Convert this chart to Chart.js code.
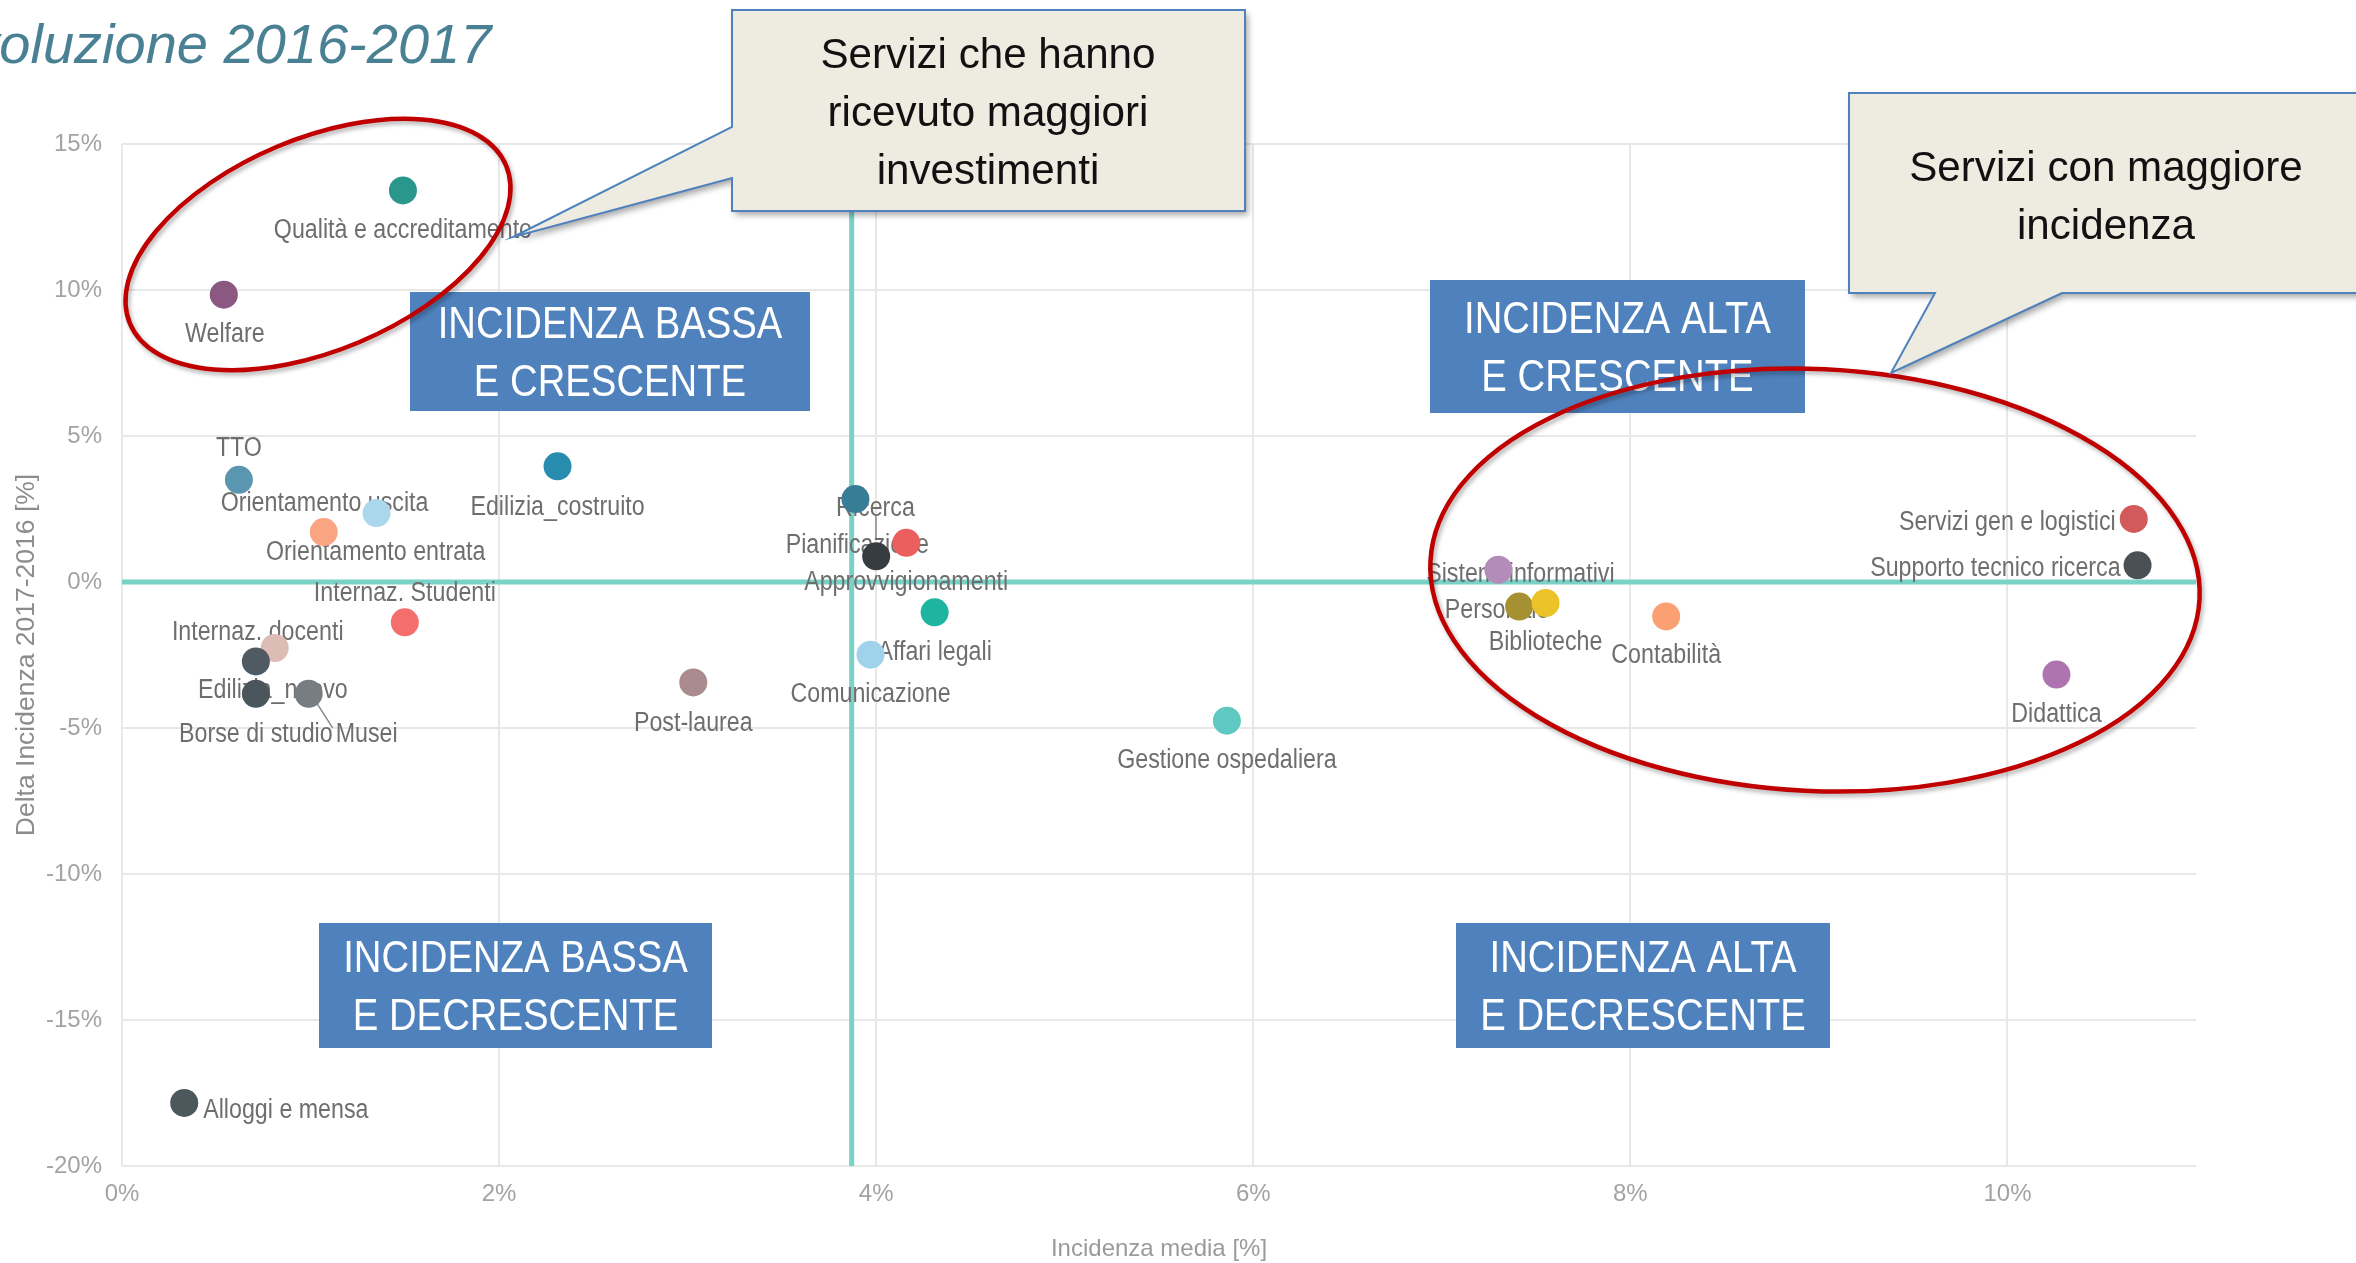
<!DOCTYPE html>
<html>
<head>
<meta charset="utf-8">
<script src="https://cdn.jsdelivr.net/npm/chart.js@4.4.1/dist/chart.umd.min.js"></script>
<style>
html,body{margin:0;padding:0;background:#fff;overflow:hidden}
canvas{display:block}
</style>
</head>
<body>
<canvas id="c" width="2356" height="1263"></canvas>
<script>
// ---------------- DATA ----------------
const categories = [
  "Qualità e accreditamento", "Welfare", "TTO", "Orientamento uscita", "Orientamento entrata",
  "Internaz. Studenti", "Internaz. docenti", "Edilizia_nuovo", "Borse di studio", "Musei",
  "Edilizia_costruito", "Post-laurea", "Alloggi e mensa", "Ricerca", "Pianificazione",
  "Approvvigionamenti", "Affari legali", "Comunicazione", "Gestione ospedaliera",
  "Servizi gen e logistici", "Supporto tecnico ricerca", "Sistemi informativi", "Personale",
  "Biblioteche", "Contabilità", "Didattica"
];
// Incidenza media [%]
const incidenzaMedia = [
  1.49, 0.54, 0.62, 1.35, 1.07,
  1.50, 0.81, 0.71, 0.71, 0.99,
  2.31, 3.03, 0.33, 3.89, 4.16,
  4.00, 4.31, 3.97, 5.86,
  10.67, 10.69, 7.30, 7.41,
  7.55, 8.19, 10.26
];
// Delta Incidenza 2017-2016 [%]
const deltaIncidenza = [
  13.41, 9.84, 3.50, 2.36, 1.71,
  -1.38, -2.26, -2.72, -3.83, -3.83,
  3.96, -3.44, -17.84, 2.84, 1.34,
  0.88, -1.04, -2.49, -4.75,
  2.16, 0.57, 0.42, -0.84,
  -0.72, -1.18, -3.17
];
const xTickValues = [0, 2, 4, 6, 8, 10];
const yTickValues = [-20, -15, -10, -5, 0, 5, 10, 15];
const referenceX = 3.87;   // vertical reference line (incidenza media)
const referenceY = 0;      // horizontal reference line
const quadrantLabels = [
  ["INCIDENZA BASSA", "E CRESCENTE"],
  ["INCIDENZA ALTA", "E CRESCENTE"],
  ["INCIDENZA BASSA", "E DECRESCENTE"],
  ["INCIDENZA ALTA", "E DECRESCENTE"]
];
const calloutTexts = [
  ["Servizi che hanno", "ricevuto maggiori", "investimenti"],
  ["Servizi con maggiore", "incidenza"]
];
const pageTitle = "Evoluzione 2016-2017";
const xTitle = "Incidenza media [%]";
const yTitle = "Delta Incidenza 2017-2016 [%]";

// ---------------- STYLE ----------------
const pointColors = [
  "rgb(43,150,140)", "rgb(138,88,128)", "rgb(90,150,175)", "rgb(170,215,235)", "rgb(250,165,130)",
  "rgb(245,110,110)", "rgb(222,188,182)", "rgb(80,90,98)", "rgb(75,85,92)", "rgb(120,125,130)",
  "rgb(40,140,175)", "rgb(170,140,142)", "rgb(75,88,92)", "rgb(55,125,150)", "rgb(235,95,95)",
  "rgb(55,60,65)", "rgb(30,180,160)", "rgb(160,210,235)", "rgb(95,200,192)",
  "rgb(210,90,90)", "rgb(75,80,85)", "rgb(180,140,185)", "rgb(165,145,50)",
  "rgb(235,195,40)", "rgb(250,160,115)", "rgb(175,115,175)"
];
// [textAlign, dx, dy] of label visual centre relative to the point (px)
const labelPlacement = [
  ["center", 0, 38], ["center", 1, 38], ["center", 0, -34], ["center", -52, -12], ["center", 52, 18],
  ["center", 0, -31], ["center", -17, -18], ["center", 17, 27], ["center", 0, 38], ["center", 58, 38],
  ["center", 0, 39], ["center", 0, 39], ["left", 19, 5], ["center", 20, 7], ["center", -49, 0],
  ["center", 30, 24], ["center", 0, 38], ["center", 0, 38], ["center", 0, 38],
  ["right", -18, 1], ["right", -17, 1], ["center", 22, 3], ["center", -22, 2],
  ["center", 0, 37], ["center", 0, 37], ["center", 0, 38]
];
const labelLeaders = { 9: [6, 6, 24, 34], 13: [20.5, 17, 20.5, 41] };

const SANS = '"Liberation Sans", Arial, sans-serif';

// overlay geometry (canvas px)
const boxRects = [
  [410, 292, 400, 119],
  [1430, 280, 375, 133],
  [319, 923, 393, 125],
  [1456, 923, 374, 125]
];
const ellipses = [
  [318, 244.5, 204, 106, -22.8],
  [1815, 580, 385, 211, 2.8]
];

function scaledText(ctx, text, x, y, sx, align) {
  ctx.save();
  ctx.translate(x, y);
  ctx.scale(sx, 1);
  ctx.textAlign = align;
  ctx.fillText(text, 0, 0);
  ctx.restore();
}

// ---------------- PLUGINS ----------------
const underlayPlugin = {
  id: 'underlay',
  beforeDatasetsDraw(chart) {
    const { ctx, chartArea: a, scales: { x, y } } = chart;
    ctx.save();
    ctx.strokeStyle = 'rgb(121,210,200)';
    ctx.lineWidth = 5;
    const rx = x.getPixelForValue(referenceX);
    ctx.beginPath(); ctx.moveTo(rx, a.top); ctx.lineTo(rx, a.bottom); ctx.stroke();
    const ry = y.getPixelForValue(referenceY);
    ctx.beginPath(); ctx.moveTo(a.left, ry); ctx.lineTo(a.right, ry); ctx.stroke();

    // leader lines
    ctx.strokeStyle = '#8a8a8a';
    ctx.lineWidth = 1.5;
    Object.keys(labelLeaders).forEach(k => {
      const i = +k, l = labelLeaders[k];
      const px = x.getPixelForValue(incidenzaMedia[i]);
      const py = y.getPixelForValue(deltaIncidenza[i]);
      ctx.beginPath(); ctx.moveTo(px + l[0], py + l[1]); ctx.lineTo(px + l[2], py + l[3]); ctx.stroke();
    });

    // data labels (condensed look)
    const fs = 27;
    ctx.font = fs + 'px ' + SANS;
    ctx.fillStyle = '#6e6e6e';
    ctx.textBaseline = 'alphabetic';
    categories.forEach((name, i) => {
      const px = x.getPixelForValue(incidenzaMedia[i]);
      const py = y.getPixelForValue(deltaIncidenza[i]);
      const [al, dx, dy] = labelPlacement[i];
      scaledText(ctx, name, px + dx, py + dy + fs * 0.36, 0.86, al);
    });
    ctx.restore();
  }
};

function drawCallout(ctx, pts) {
  ctx.beginPath();
  ctx.moveTo(pts[0][0], pts[0][1]);
  for (let i = 1; i < pts.length; i++) ctx.lineTo(pts[i][0], pts[i][1]);
  ctx.closePath();
  ctx.save();
  ctx.shadowColor = 'rgba(0,0,0,0.35)';
  ctx.shadowBlur = 6; ctx.shadowOffsetX = 3; ctx.shadowOffsetY = 4;
  ctx.fillStyle = '#eeebe0';
  ctx.fill();
  ctx.restore();
  ctx.strokeStyle = '#4f81bd';
  ctx.lineWidth = 2;
  ctx.stroke();
}

const overlayPlugin = {
  id: 'overlay',
  afterDraw(chart) {
    const { ctx } = chart;
    ctx.save();
    ctx.textBaseline = 'alphabetic';
    // quadrant boxes
    boxRects.forEach((r, i) => {
      ctx.fillStyle = '#4f81bd';
      ctx.fillRect(r[0], r[1], r[2], r[3]);
      const fs = 44;
      ctx.font = fs + 'px ' + SANS;
      ctx.fillStyle = '#ffffff';
      const cx = r[0] + r[2] / 2, cy = r[1] + r[3] / 2;
      const lines = quadrantLabels[i];
      scaledText(ctx, lines[0], cx, cy - 29 + fs * 0.36, 0.87, 'center');
      scaledText(ctx, lines[1], cx, cy + 29 + fs * 0.36, 0.87, 'center');
    });
    // red ellipses
    ellipses.forEach(e => {
      ctx.save();
      ctx.shadowColor = 'rgba(0,0,0,0.3)';
      ctx.shadowBlur = 4; ctx.shadowOffsetX = 2; ctx.shadowOffsetY = 3;
      ctx.strokeStyle = '#c00000';
      ctx.lineWidth = 4.5;
      ctx.beginPath();
      ctx.ellipse(e[0], e[1], e[2], e[3], e[4] * Math.PI / 180, 0, Math.PI * 2);
      ctx.stroke();
      ctx.restore();
    });
    // callouts
    drawCallout(ctx, [[732, 10], [1245, 10], [1245, 211], [732, 211], [732, 178], [513, 237], [732, 127]]);
    drawCallout(ctx, [[1849, 93], [2420, 93], [2420, 293], [2062, 293], [1891, 373], [1935, 293], [1849, 293]]);
    ctx.fillStyle = '#111111';
    ctx.font = '43px ' + SANS;
    calloutTexts[0].forEach((t, i) => scaledText(ctx, t, 988, 68 + i * 58, 0.98, 'center'));
    calloutTexts[1].forEach((t, i) => scaledText(ctx, t, 2106, 181 + i * 58, 0.98, 'center'));
    // page title
    ctx.font = 'italic 56px ' + SANS;
    ctx.fillStyle = 'rgb(74,128,148)';
    ctx.textAlign = 'left';
    ctx.fillText(pageTitle, -66, 63);
    ctx.restore();
  }
};

const gridStyle = { color: '#e8e8e8', lineWidth: 2, drawTicks: false };
const tickFont = { family: SANS, size: 24 };

new Chart(document.getElementById('c'), {
  type: 'scatter',
  data: {
    datasets: [{
      data: categories.map((c, i) => ({ x: incidenzaMedia[i], y: deltaIncidenza[i] })),
      backgroundColor: pointColors,
      borderWidth: 0,
      pointRadius: 14,
      pointHoverRadius: 14
    }]
  },
  options: {
    responsive: false,
    devicePixelRatio: 1,
    animation: false,
    events: [],
    layout: { padding: { top: 144, right: 160, bottom: 0, left: 0 } },
    plugins: { legend: { display: false }, tooltip: { enabled: false } },
    scales: {
      x: {
        type: 'linear', min: 0, max: 11,
        afterBuildTicks: s => { s.ticks = xTickValues.map(v => ({ value: v })); },
        afterFit: s => { s.height = 97; },
        grid: gridStyle,
        border: { display: false },
        ticks: { padding: 14, font: tickFont, color: '#a3a3a3', callback: v => v + '%' },
        title: { display: true, text: xTitle, color: '#9a9a9a', padding: 0,
                 font: { family: SANS, size: 24, lineHeight: 1.1 } }
      },
      y: {
        type: 'linear', min: -20, max: 15,
        afterBuildTicks: s => { s.ticks = yTickValues.map(v => ({ value: v })); },
        afterFit: s => { s.width = 122; },
        grid: gridStyle,
        border: { display: false },
        ticks: { padding: 20, font: tickFont, color: '#a3a3a3', callback: v => v + '%' },
        title: { display: true, text: yTitle, color: '#8c8c8c', padding: { top: 11, bottom: 0 },
                 font: { family: SANS, size: 26.5 } }
      }
    }
  },
  plugins: [underlayPlugin, overlayPlugin]
});
</script>
</body>
</html>
